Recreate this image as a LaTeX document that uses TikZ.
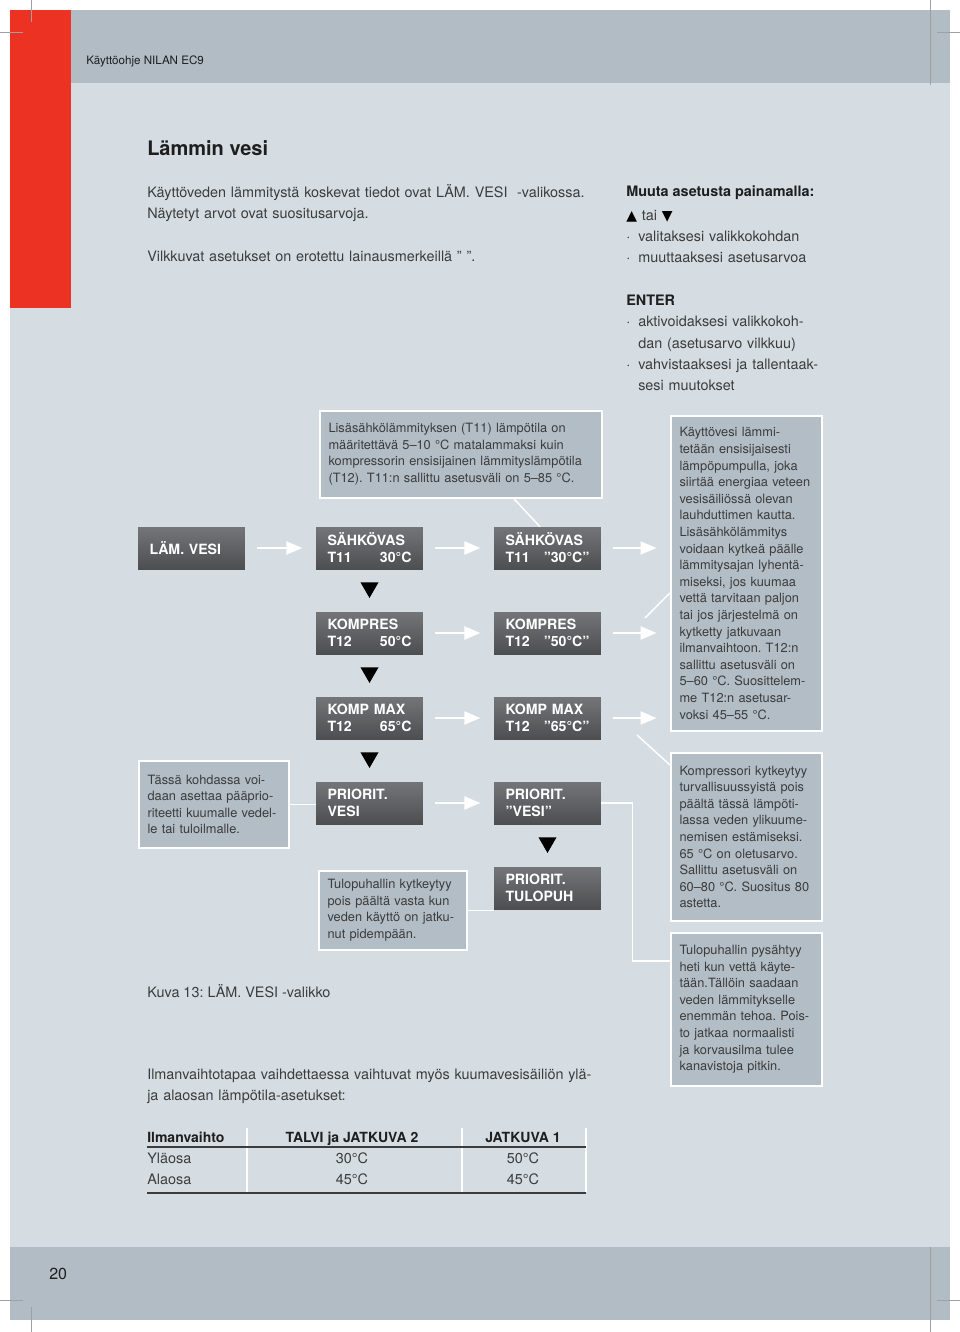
\documentclass[tikz,border=0pt]{standalone}
\usepackage{fontspec}
\setmainfont{TeX Gyre Heros}
\newfontfamily\symfont{DejaVu Sans}
\usetikzlibrary{positioning, arrows.meta, shapes.geometric}
\frenchspacing

\definecolor{pagebg}{HTML}{D5DDE2}
\definecolor{bandgrey}{HTML}{B1BCC5}
\definecolor{notegrey}{HTML}{B2BDC6}
\definecolor{nilanred}{HTML}{EC3223}
\definecolor{boxtop}{HTML}{737578}
\definecolor{boxbot}{HTML}{4C4E50}
\definecolor{bodytxt}{HTML}{3C3C3C}
\definecolor{darktxt}{HTML}{1E1E1E}
\definecolor{cropgrey}{HTML}{A0A0A0}

\begin{document}
\begin{tikzpicture}[x=0.75pt, y=-0.75pt, node distance=63.75pt and 133.5pt, on grid,
    flowbox/.style={rectangle, top color=boxtop, bottom color=boxbot, text=white,
        font=\fontsize{10.6}{12.75}\selectfont\bfseries, align=left, text width=63pt,
        inner xsep=8.6pt, inner ysep=0pt, minimum height=31.5pt},
    note/.style={rectangle, anchor=north west, fill=notegrey, draw=white, line width=1.3pt,
        text=bodytxt, font=\fontsize{9.6}{12.45}\selectfont, align=left, inner xsep=6.5pt},
    bodytext/.style={anchor=base west, inner sep=0pt, text=bodytxt,
        font=\fontsize{10.8}{16}\selectfont},
    cell/.style={anchor=base, inner sep=0pt, text=bodytxt, font=\fontsize{10.8}{16}\selectfont},
    headcell/.style={cell, text=darktxt, font=\fontsize{10.5}{16}\selectfont\bfseries},
    flowarrow/.style={white, line width=2.2pt, -{Triangle[length=12pt, width=9.5pt]},
        shorten <=9pt, shorten >=10pt},
    downtri/.style={fill=black, regular polygon, regular polygon sides=3,
        shape border rotate=180, minimum size=15.6pt, inner sep=0pt, yshift=2.2pt},
    callline/.style={white, line width=1.1pt},
    cropmark/.style={cropgrey, line width=0.5pt}]

    % Page
    \useasboundingbox (0,0) rectangle (960,1332);
    \fill[pagebg] (10,10) rectangle (950,1320);
    \fill[bandgrey] (71,10) rectangle (950,83);
    \fill[bandgrey] (10,1247) rectangle (950,1320);
    \fill[nilanred] (10,10) rectangle (71,308);

    % Crop marks
    \draw[cropmark] (31,0) -- (31,22) (0,32) -- (23,32);
    \draw[cropmark] (930,0) -- (930,85) (937,32) -- (960,32);
    \draw[cropmark] (31,1307) -- (31,1332) (0,1300) -- (23,1300);
    \draw[cropmark] (930,1247) -- (930,1332) (937,1300) -- (960,1300);

    % Header and footer
    \node[bodytext, text=darktxt, font=\fontsize{8.7}{10}\selectfont] (hdr) at (86,64) {Käyttöohje NILAN EC9};
    \node[bodytext, text=darktxt, font=\fontsize{12}{14}\selectfont] (pageno) at (49,1279) {20};

    % Title and intro
    \node[bodytext, text=darktxt, font=\fontsize{15}{18}\selectfont\bfseries] (title) at (147,155) {Lämmin vesi};
    \node[bodytext, text width=360pt, align=left] (intro) at (147,197)
        {Käyttöveden lämmitystä koskevat tiedot ovat LÄM. VESI \ -valikossa.\\
         Näytetyt arvot ovat suositusarvoja.\\[16pt]
         Vilkkuvat asetukset on erotettu lainausmerkeillä ” ”.};

    % Key help
    \node[bodytext, text=darktxt, font=\fontsize{10.8}{16}\selectfont\bfseries] (keyhead) at (626,196)
        {Muuta asetusta painamalla:};
    \node[bodytext, text width=170pt, align=left] (keys) at (626,220)
        {{\color{black}\symfont\fontsize{10.5}{10}\selectfont ▲} tai {\color{black}\symfont\fontsize{10.5}{10}\selectfont ▼}\\
         \makebox[9pt][l]{·}valitaksesi valikkokohdan\\
         \makebox[9pt][l]{·}muuttaaksesi asetusarvoa\\[16pt]
         {\color{darktxt}\bfseries ENTER}\\
         \makebox[9pt][l]{·}aktivoidaksesi valikkokoh-\\
         \hspace*{9pt}dan (asetusarvo vilkkuu)\\
         \makebox[9pt][l]{·}vahvistaaksesi ja tallentaak-\\
         \hspace*{9pt}sesi muutokset};

    % Menu boxes
    \node[flowbox] (lam) at (191.5,548) {LÄM. VESI};
    \node[flowbox, right=of lam] (s1) {SÄHKÖVAS\\T11\hfill 30°C};
    \node[flowbox, below=of s1] (k1) {KOMPRES\\T12\hfill 50°C};
    \node[flowbox, below=of k1] (m1) {KOMP MAX\\T12\hfill 65°C};
    \node[flowbox, below=of m1] (p1) {PRIORIT.\\VESI};
    \node[flowbox, right=of s1] (s2) {SÄHKÖVAS\\T11\hfill ”30°C”};
    \node[flowbox, right=of k1] (k2) {KOMPRES\\T12\hfill ”50°C”};
    \node[flowbox, right=of m1] (m2) {KOMP MAX\\T12\hfill ”65°C”};
    \node[flowbox, right=of p1] (p2) {PRIORIT.\\”VESI”};
    \node[flowbox, below=of p2] (t2) {PRIORIT.\\TULOPUH};

    % Notes
    \node[note, text width=198.5pt, minimum height=65.25pt] (noteT) at (319,410)
        {Lisäsähkölämmityksen (T11) lämpötila on\\
         määritettävä 5–10 °C matalammaksi kuin\\
         kompressorin ensisijainen lämmityslämpötila\\
         (T12). T11:n sallittu asetusväli on 5–85 °C.};
    \node[note, text width=100.25pt, minimum height=236.25pt] (noteR) at (670,415)
        {Käyttövesi lämmi-\\tetään ensisijaisesti\\lämpöpumpulla, joka\\siirtää energiaa veteen\\
         vesisäiliössä olevan\\lauhduttimen kautta.\\Lisäsähkölämmitys\\voidaan kytkeä päälle\\
         lämmitysajan lyhentä-\\miseksi, jos kuumaa\\vettä tarvitaan paljon\\tai jos järjestelmä on\\
         kytketty jatkuvaan\\ilmanvaihtoon. T12:n\\sallittu asetusväli on\\5–60 °C. Suosittelem-\\
         me T12:n asetusar-\\voksi 45–55 °C.};
    \node[note, text width=100.25pt, minimum height=126pt] (noteK) at (670,752)
        {Kompressori kytkeytyy\\turvallisuussyistä pois\\päältä tässä lämpöti-\\lassa veden ylikuume-\\
         nemisen estämiseksi.\\65 °C on oletusarvo.\\Sallittu asetusväli on\\60–80 °C. Suositus 80\\astetta.};
    \node[note, text width=100.25pt, minimum height=114.75pt] (noteP) at (670,932)
        {Tulopuhallin pysähtyy\\heti kun vettä käyte-\\tään.Tällöin saadaan\\veden lämmitykselle\\
         enemmän tehoa. Pois-\\to jatkaa normaalisti\\ja korvausilma tulee\\kanavistoja pitkin.};
    \node[note, text width=99.5pt, minimum height=65.25pt] (noteA) at (138,760)
        {Tässä kohdassa voi-\\daan asettaa pääprio-\\riteetti kuumalle vedel-\\le tai tuloilmalle.};
    \node[note, text width=98pt, minimum height=59.25pt] (noteB) at (318,870)
        {Tulopuhallin kytkeytyy\\pois päältä vasta kun\\veden käyttö on jatku-\\nut pidempään.};

    % Arrows
    \draw[flowarrow] (lam) -- (s1);
    \draw[flowarrow] (s1) -- (s2);
    \draw[flowarrow] (k1) -- (k2);
    \draw[flowarrow] (m1) -- (m2);
    \draw[flowarrow] (p1) -- (p2);
    \draw[flowarrow] (s2) -- (s2 -| noteR.west);
    \draw[flowarrow] (k2) -- (k2 -| noteR.west);
    \draw[flowarrow] (m2) -- (m2 -| noteR.west);
    \path (s1) -- node[downtri] {} (k1);
    \path (k1) -- node[downtri] {} (m1);
    \path (m1) -- node[downtri] {} (p1);
    \path (p2) -- node[downtri] {} (t2);

    % Note lines
    \coordinate (cR) at (645,618);
    \coordinate (cK) at (637,735);
    \draw[callline] ([xshift=39.75pt]noteT.south) -- ([xshift=-5.6pt]s2.north);
    \draw[callline] (cR) -- ([yshift=-14.6pt]noteR.west);
    \draw[callline] (cK) -- ([yshift=-9.75pt]noteK.north west);
    \draw[callline] (p2.east) -- ++(31,0) |- ([yshift=36.4pt]noteP.west);
    \draw[callline] (noteA.east) -- (noteA.east -| p1.west);
    \draw[callline] (noteB.east) -- (noteB.east -| t2.west);

    % Caption and text
    \node[bodytext] (caption) at (147,997) {Kuva 13: LÄM. VESI -valikko};
    \node[bodytext, text width=360pt, align=left] (para) at (147,1079)
        {Ilmanvaihtotapaa vaihdettaessa vaihtuvat myös kuumavesisäiliön ylä-\\
         ja alaosan lämpötila-asetukset:};

    % Table
    \draw[white, line width=0.8pt] (247,1128) -- (247,1192) (462,1128) -- (462,1192) (586,1128) -- (586,1192);
    \draw[bodytxt, line width=1.3pt] (147,1147) -- (586,1147);
    \draw[bodytxt, line width=1.3pt] (147,1193) -- (586,1193);
    \node[headcell, anchor=base west] (h1) at (147,1142) {Ilmanvaihto};
    \node[headcell] (h2) at (352,1142) {TALVI ja JATKUVA 2};
    \node[headcell] (h3) at (523,1142) {JATKUVA 1};
    \node[cell, anchor=base west] (r1) at (147,1163) {Yläosa};
    \node[cell] (r1a) at (352,1163) {30°C};
    \node[cell] (r1b) at (523,1163) {50°C};
    \node[cell, anchor=base west] (r2) at (147,1184) {Alaosa};
    \node[cell] (r2a) at (352,1184) {45°C};
    \node[cell] (r2b) at (523,1184) {45°C};

\end{tikzpicture}
\end{document}
